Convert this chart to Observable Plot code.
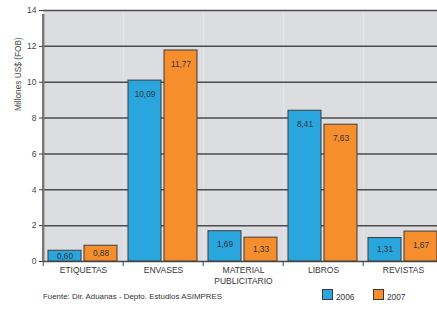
<!DOCTYPE html>
<html>
<head>
<meta charset="utf-8">
<script src="https://cdn.jsdelivr.net/npm/d3@7"></script>
<script src="https://cdn.jsdelivr.net/npm/@observablehq/plot@0.6"></script>
<style>
  html, body { margin: 0; padding: 0; background: #fff; overflow: hidden; }
  body { width: 437px; height: 309px; font-family: "Liberation Sans", Arial, sans-serif; }
  #chart svg { display: block; overflow: visible; }
  #foot { position: relative; height: 27px; font-size: 8.3px; color: #333; }
  #foot .src { position: absolute; left: 43px; top: 10px; font-size: 7.9px; }
  #foot .sw { position: absolute; top: 7px; width: 9px; height: 9px; border: 1px solid #3a3a3a; }
  #foot .lab { position: absolute; top: 10px; }
</style>
</head>
<body>
<div id="chart"></div>
<div id="foot"></div>
<script>
const categories = ["ETIQUETAS", "ENVASES", "MATERIAL\nPUBLICITARIO", "LIBROS", "REVISTAS"];
const years = ["2006", "2007"];
const values2006 = [0.60, 10.09, 1.69, 8.41, 1.31];
const values2007 = [0.88, 11.77, 1.33, 7.63, 1.67];
const yTicks = [0, 2, 4, 6, 8, 10, 12, 14];
const yLabel = "Millones US$ (FOB)";
const source = "Fuente: Dir. Aduanas - Depto. Estudios ASIMPRES";
const colors = ["#2aa6de", "#f68e2d"];

const data = categories.flatMap((c, i) => [
  {cat: c, year: years[0], value: values2006[i]},
  {cat: c, year: years[1], value: values2007[i]}
]);
const fmt = v => v.toFixed(2).replace(".", ",");

const plot = Plot.plot({
  width: 437,
  height: 282,
  marginTop: 10,
  marginBottom: 21,
  marginLeft: 43,
  marginRight: -6,
  style: {fontFamily: "'Liberation Sans', Arial, sans-serif", background: "transparent", overflow: "visible"},
  fx: {domain: categories, padding: 0},
  x: {domain: years, paddingInner: 0.08, paddingOuter: 0.14, axis: null},
  y: {domain: [0, 14]},
  color: {domain: years, range: colors},
  marks: [
    Plot.frame({fill: "#dcdde0", stroke: null}),
    Plot.ruleY(yTicks, {stroke: "#4d4d4d", strokeWidth: 1.5}),
    Plot.ruleX(categories, {fx: d => d, x: () => years[0], dx: -21.8, y1: 0, y2: 0, insetBottom: -5, stroke: "#444", strokeWidth: 1}),
    Plot.ruleX([categories[0]], {fx: d => d, x: () => years[0], dx: -21.8, y1: 0, y2: 14, insetBottom: -4, stroke: "#7a7a7a", strokeWidth: 2.5}),
    Plot.barY(data, {fx: "cat", x: "year", y: "value", fill: "year", stroke: "#3d3d3d", strokeWidth: 1}),
    Plot.text(data, {fx: "cat", x: "year", y: d => Math.max(d.value - 0.75, d.value / 2), text: d => fmt(d.value), fill: "#2e3338", fontSize: 8.3}),
    Plot.axisY({ticks: yTicks, tickSize: 4, tickPadding: 3, fontSize: 8.5, color: "#444", label: null}),
    Plot.text([yLabel], {fx: () => categories[0], frameAnchor: "left", dx: -25, dy: -25, rotate: -90, fontSize: 8.3, fill: "#444"}),
    Plot.axisFx({anchor: "bottom", tickSize: 0, tickPadding: 4, fontSize: 8.5, lineHeight: 1.3, color: "#333", label: null})
  ]
});
document.getElementById("chart").appendChild(plot);

const foot = document.getElementById("foot");
const src = document.createElement("div");
src.className = "src"; src.textContent = source; foot.appendChild(src);
const swX = [322, 373];
years.forEach((y, i) => {
  const sw = document.createElement("div");
  sw.className = "sw"; sw.style.left = swX[i] + "px"; sw.style.background = colors[i];
  foot.appendChild(sw);
  const lb = document.createElement("div");
  lb.className = "lab"; lb.style.left = (swX[i] + 14) + "px"; lb.textContent = y;
  foot.appendChild(lb);
});
</script>
</body>
</html>
